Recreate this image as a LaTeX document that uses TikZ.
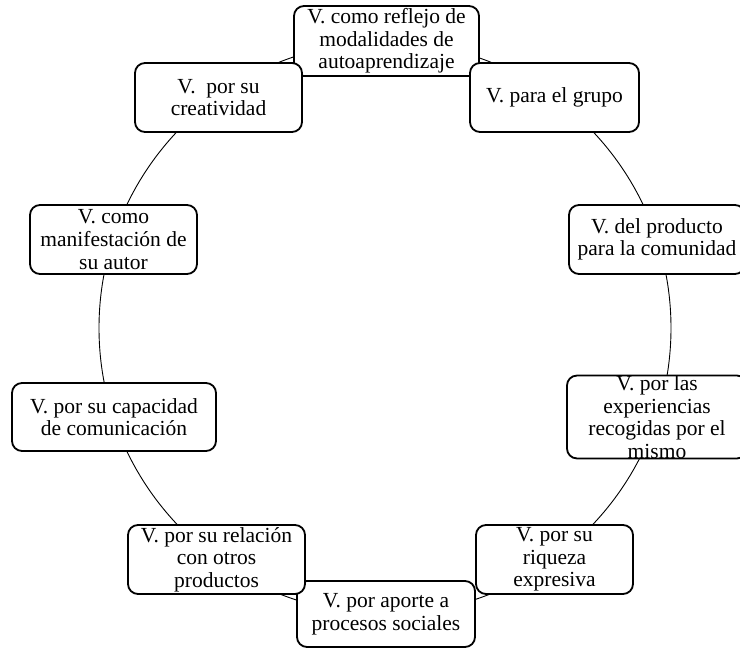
\documentclass[tikz,border=0pt]{standalone}
\usepackage{fontspec}
\setmainfont{Liberation Serif}
\begin{document}
\begin{tikzpicture}[x=1pt,y=1pt,
  vbox/.style={draw=black, line width=1.8pt, fill=white, rounded corners=10pt,
    align=center, inner sep=0pt, font=\fontsize{21.5}{22.6}\selectfont},
  ring/.style={draw=black, line width=0.9pt}]
\useasboundingbox (0,0) rectangle (740,649);
\clip (0,0) rectangle (740,649);
\coordinate (c) at (385,321);
\draw[ring] (c) circle[radius=286pt];
\node[vbox, minimum width=185pt, minimum height=70pt] (n1) at (386.5,608)
  {V. como reflejo de\\modalidades de\\autoaprendizaje};
\node[vbox, minimum width=169pt, minimum height=69pt] (n2) at (554.5,551.5)
  {V. para el grupo};
\node[vbox, minimum width=176pt, minimum height=69pt] (n3) at (657,409.5)
  {V. del producto\\para la comunidad};
\node[vbox, minimum width=180pt, minimum height=68pt] (n4) at (657,232)
  {V. por las\\experiencias\\recogidas por el\\mismo};
\node[vbox, minimum width=157pt, minimum height=69pt] (n5) at (554.5,89.5)
  {V. por su\\riqueza\\expresiva};
\node[vbox, minimum width=178pt, minimum height=66pt] (n6) at (386,35)
  {V. por aporte a\\procesos sociales};
\node[vbox, minimum width=177pt, minimum height=69pt] (n7) at (216.5,89.5)
  {V. por su relación\\con otros\\productos};
\node[vbox, minimum width=204pt, minimum height=68pt] (n8) at (114,232)
  {V. por su capacidad\\de comunicación};
\node[vbox, minimum width=167pt, minimum height=69pt] (n9) at (113.5,409.5)
  {V. como\\manifestación de\\su autor};
\node[vbox, minimum width=167pt, minimum height=69pt] (n10) at (218.5,551.5)
  {V.\ \ por su\\creatividad};
\end{tikzpicture}
\end{document}
